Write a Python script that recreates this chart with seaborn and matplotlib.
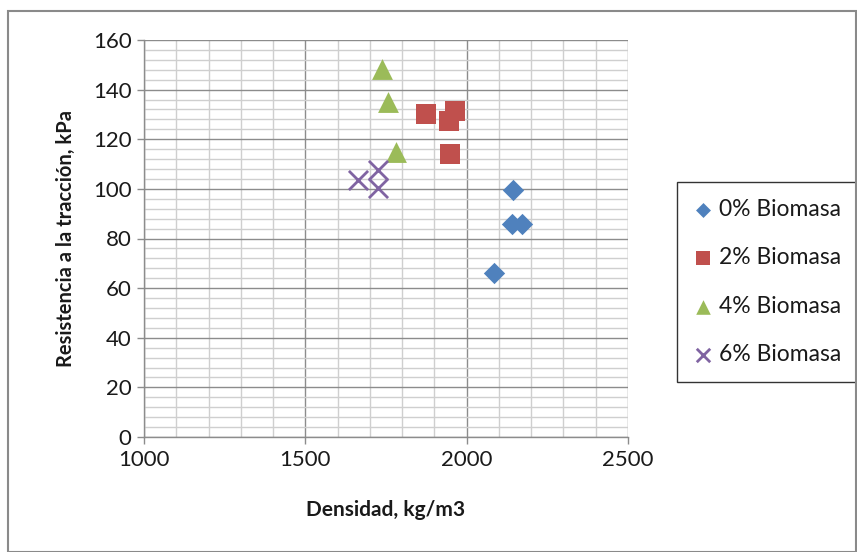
import matplotlib
matplotlib.use("Agg")
import matplotlib.pyplot as plt
import seaborn as sns
import pandas as pd
from matplotlib.ticker import MultipleLocator
from matplotlib.patches import Rectangle

# Density (kg/m3) and tensile strength (kPa) per biomass content
dens_0 = [2143, 2139, 2170, 2085]
res_0 = [99.6, 85.9, 85.9, 66.2]
dens_2 = [1875, 1964, 1944, 1948]
res_2 = [130.2, 131.3, 127.3, 114.2]
dens_4 = [1738, 1757, 1781]
res_4 = [148.4, 135.2, 115.0]
dens_6 = [1664, 1726, 1726]
res_6 = [103.6, 107.7, 100.3]

labels = ["0% Biomasa", "2% Biomasa", "4% Biomasa", "6% Biomasa"]
colors = ["#4F81BD", "#C0504D", "#9BBB59", "#8064A2"]
markers = ["D", "s", "^", "x"]
sizes = [118, 225, 225, 190]

frames = []
for lab, d, r in zip(labels, [dens_0, dens_2, dens_4, dens_6],
                     [res_0, res_2, res_4, res_6]):
    frames.append(pd.DataFrame({"Densidad": d, "Resistencia": r, "Grupo": lab}))
df = pd.concat(frames, ignore_index=True)

sns.set_theme(style="white")
plt.rcParams["font.family"] = ["Lato", "DejaVu Sans"]

fig = plt.figure(figsize=(8.57, 5.52), dpi=100)
ax = fig.add_axes([144 / 857, 1 - 437 / 552, (628 - 144) / 857, (437 - 40) / 552])

# outer chart border
fig.patches.append(Rectangle((8 / 857, 0.0), 848 / 857, 1 - 11 / 552,
                             transform=fig.transFigure, fill=False,
                             edgecolor="#8a8a8a", linewidth=1.5, zorder=0))

for lab, col, mk, sz in zip(labels, colors, markers, sizes):
    sub = df[df["Grupo"] == lab]
    kw = dict(linewidth=2.0) if mk == "x" else dict(linewidth=0)
    sns.scatterplot(data=sub, x="Densidad", y="Resistencia", ax=ax,
                    color=col, marker=mk, s=sz, label=lab, zorder=3, **kw)

ax.set_xlim(1000, 2500)
ax.set_ylim(0, 160)
ax.xaxis.set_major_locator(MultipleLocator(500))
ax.xaxis.set_minor_locator(MultipleLocator(100))
ax.yaxis.set_major_locator(MultipleLocator(20))
ax.yaxis.set_minor_locator(MultipleLocator(4))

ax.grid(which="minor", color="#cfcfcf", linewidth=1.0, zorder=0)
ax.grid(which="major", color="#8c8c8c", linewidth=1.0, zorder=1)
ax.set_axisbelow(True)

for side in ["top", "right"]:
    ax.spines[side].set_visible(False)
for side in ["left", "bottom"]:
    ax.spines[side].set_color("#8c8c8c")
    ax.spines[side].set_linewidth(1.0)

ax.tick_params(which="major", direction="out", length=5, width=1.0,
               color="#8c8c8c", labelsize=16, labelcolor="#1a1a1a", pad=4,
               bottom=True, left=True)
ax.tick_params(which="minor", length=0)

ax.set_xlabel("Densidad, kg/m3", fontsize=15, fontweight="bold",
              color="#1a1a1a", labelpad=22)
ax.set_ylabel("Resistencia a la tracción, kPa", fontsize=14.5, fontweight="bold",
              color="#1a1a1a", labelpad=12)

leg = ax.legend(loc="center", bbox_to_anchor=(767.5 / 857, 1 - 282 / 552),
                bbox_transform=fig.transFigure, frameon=True, fancybox=False,
                edgecolor="#000000", fontsize=16.5, markerscale=0.7,
                handlelength=0.8, handletextpad=0.3, labelspacing=1.2,
                borderpad=0.75, borderaxespad=0)
leg.get_frame().set_linewidth(1.0)
for t in leg.get_texts():
    t.set_color("#1a1a1a")

fig.savefig("out.png", dpi=100)
